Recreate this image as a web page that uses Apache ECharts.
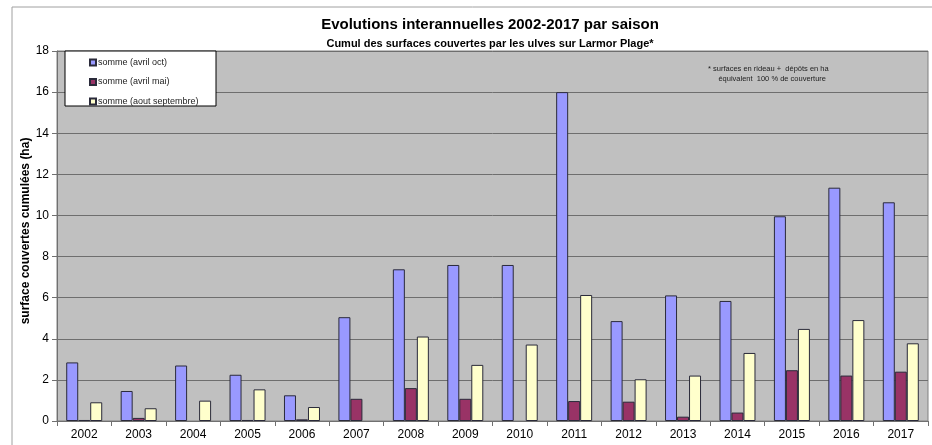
<!DOCTYPE html>
<html>
<head>
<meta charset="utf-8">
<script src="https://cdn.jsdelivr.net/npm/echarts@6/dist/echarts.min.js"></script>
<style>
  html, body { margin: 0; padding: 0; background: #fff; }
  #chart { width: 932px; height: 445px; }
</style>
</head>
<body>
<div id="chart"></div>
<script>
// Years on the category axis
const years = ['2002','2003','2004','2005','2006','2007','2008','2009','2010','2011','2012','2013','2014','2015','2016','2017'];

// Cumulated covered surfaces (ha) per season (null = no bar)
const avrilOct = [2.85, 1.46, 2.70, 2.25, 1.25, 5.05, 7.38, 7.59, 7.59, 16.0, 4.86, 6.11, 5.84, 9.96, 11.35, 10.64];
const avrilMai = [0.05, 0.15, null, 0.05, 0.08, 1.08, 1.60, 1.08, null, 0.97, 0.94, 0.21, 0.41, 2.47, 2.21, 2.40];
const aoutSept = [0.91, 0.62, 0.99, 1.54, 0.68, null, 4.11, 2.73, 3.72, 6.13, 2.03, 2.21, 3.31, 4.48, 4.91, 3.78];

const seriesNames = ['somme (avril oct)', 'somme (avril mai)', 'somme (aout septembre)'];
const yTicks = { min: 0, max: 18, interval: 2 };
const yAxisTitle = 'surface couvertes cumulées (ha)';

const FONT = '"Liberation Sans", Arial, sans-serif';

const chart = echarts.init(document.getElementById('chart'));

function barSeries(name, data, color) {
  return {
    name: name,
    type: 'bar',
    data: data,
    barWidth: 12,
    barGap: '0%',
    itemStyle: { color: color, borderColor: '#2a2a3a', borderWidth: 1 },
    emphasis: { disabled: true }
  };
}

chart.setOption({
  animation: false,
  textStyle: { fontFamily: FONT },
  title: [
    {
      text: 'Evolutions interannuelles 2002-2017 par saison',
      left: 485, top: 12, textAlign: 'center',
      textStyle: { fontFamily: FONT, fontSize: 15, fontWeight: 'bold', color: '#000' }
    },
    {
      text: 'Cumul des surfaces couvertes par les ulves sur Larmor Plage*',
      left: 485, top: 33, textAlign: 'center',
      textStyle: { fontFamily: FONT, fontSize: 11, fontWeight: 'bold', color: '#000' }
    }
  ],
  grid: {
    left: 57, right: 4, top: 51, bottom: 24,
    show: true, backgroundColor: '#c0c0c0', borderColor: '#808080', borderWidth: 1
  },
  legend: {
    z: 20,
    orient: 'vertical',
    left: 84, top: 53,
    itemWidth: 6, itemHeight: 6, itemGap: 10.5,
    icon: 'rect',
    data: seriesNames,
    selectedMode: false,
    textStyle: { fontFamily: FONT, fontSize: 9, color: '#222', padding: [0, 0, 0, -3] }
  },
  xAxis: {
    type: 'category',
    data: years,
    axisLine: { lineStyle: { color: '#707070', width: 1 } },
    axisTick: { show: true, inside: false, length: 5, lineStyle: { color: '#707070' } },
    axisLabel: { fontFamily: FONT, fontSize: 12, color: '#000', margin: 8 }
  },
  yAxis: {
    type: 'value',
    min: yTicks.min, max: yTicks.max, interval: yTicks.interval,
    axisLine: { show: true, lineStyle: { color: '#707070' } },
    axisTick: { show: true, length: 5, lineStyle: { color: '#707070' } },
    axisLabel: { fontFamily: FONT, fontSize: 12, color: '#000', margin: 8 },
    splitLine: { show: true, lineStyle: { color: '#6e6e6e', width: 1 } }
  },
  graphic: [
    {
      type: 'rect', z: -1, silent: true,
      shape: { x: 12, y: 7, width: 940, height: 460 },
      style: { fill: 'none', stroke: '#a0a0a0', lineWidth: 1 }
    },
    {
      type: 'rect', z: 1, silent: true,
      shape: { x: 65, y: 51, width: 151, height: 55 },
      style: { fill: '#fff', stroke: '#000', lineWidth: 1 }
    },
    {
      // rotated y-axis title
      type: 'text', z: 6, silent: true,
      x: 26, y: 231, rotation: Math.PI / 2,
      style: {
        text: yAxisTitle,
        font: 'bold 12px ' + FONT, fill: '#000',
        align: 'center', verticalAlign: 'middle'
      }
    },
    {
      type: 'text', z: 6, silent: true,
      left: 708, top: 64,
      style: {
        text: '* surfaces en rideau +  dépôts en ha\n     équivalent  100 % de couverture',
        font: '7.5px ' + FONT, fill: '#222', lineHeight: 10
      }
    }
  ],
  series: [
    barSeries(seriesNames[0], avrilOct, '#9999ff'),
    barSeries(seriesNames[1], avrilMai, '#993366'),
    barSeries(seriesNames[2], aoutSept, '#ffffcc')
  ]
});
</script>
</body>
</html>
